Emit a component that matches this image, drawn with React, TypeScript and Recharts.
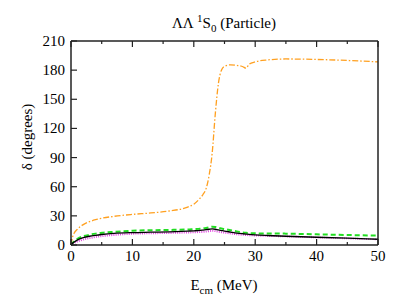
import React from "react";
import { LineChart, Line, XAxis, YAxis, Label } from "recharts";

const energies = [0, 0.25, 0.5, 1, 2, 3, 4, 5, 7, 10, 13, 16, 19, 20, 21, 21.5, 22, 22.5, 23, 23.5, 24, 24.5, 25, 26, 27, 28, 28.5, 29, 30, 32, 35, 40, 45, 50];
const orangeSeries = [0, 8, 12, 16, 21, 24, 26, 27.5, 29.5, 31.5, 33, 35, 39, 42, 48, 52, 58, 72, 95, 135, 166, 180, 184, 185.5, 185, 183.5, 182, 186, 188.5, 190.5, 191.5, 191, 190, 188.5];
const greenSeries = [0, 2.2, 3.5, 6, 9, 10.5, 11.7, 12.5, 13.5, 14.7, 15.2, 15.5, 16, 16.4, 16.8, 17.1, 17.5, 18.1, 18.8, 18.5, 17.5, 17, 16.5, 15.2, 14, 12.9, 12.5, 12.2, 12, 11.9, 11.7, 11, 10.3, 9.6];
const blackSeries = [0, 1.8, 3, 5, 7.5, 9, 10, 10.8, 12, 12.8, 13.2, 13.6, 14.3, 14.6, 15, 15.4, 15.8, 16.2, 16.5, 16.2, 15.5, 14.9, 14.3, 13.3, 12.3, 11.6, 11.3, 11, 10.5, 9.8, 9, 8, 7, 5.9];
const magentaSeries = [0, 1.2, 2, 3.5, 5.5, 7, 8.2, 9, 10.3, 11.5, 12, 12.3, 12.8, 13, 13.3, 13.5, 13.8, 14.2, 14.5, 14.2, 13.6, 13.1, 12.7, 11.8, 11, 10.4, 10.2, 10, 9.7, 9.3, 8.8, 7.8, 6.8, 5.8];
const xTicks = [0, 5, 10, 15, 20, 25, 30, 35, 40, 45, 50];
const yTicks = [0, 30, 60, 90, 120, 150, 180, 210];

const data = energies.map((e, i) => ({
  e,
  orange: orangeSeries[i],
  green: greenSeries[i],
  black: blackSeries[i],
  magenta: magentaSeries[i],
}));

const W = 400;
const H = 291;
const PL = 63;
const PT = 33;
const PR = 370;
const PB = 237;
const FONT = "'Liberation Serif', 'DejaVu Serif'";
const TXT: React.CSSProperties = { fontFamily: FONT, fontSize: 15, fill: "#000" };
const AX = "#222";

const BottomTick = (props: any) => {
  const { x, payload } = props;
  const v = payload.value;
  const major = v % 10 === 0;
  return (
    <g>
      <line x1={x} x2={x} y1={PB} y2={PB - (major ? 6 : 3)} stroke={AX} strokeWidth={1.2} />
      {major && (
        <text x={x} y={PB + 16} textAnchor="middle" style={TXT}>
          {v}
        </text>
      )}
    </g>
  );
};

const TopTick = (props: any) => {
  const { x, payload } = props;
  const v = payload.value;
  const major = v % 10 === 0;
  return <line x1={x} x2={x} y1={PT} y2={PT + (major ? 6 : 3)} stroke={AX} strokeWidth={1.2} />;
};

const LeftTick = (props: any) => {
  const { y, payload } = props;
  return (
    <g>
      <line x1={PL} x2={PL + 6} y1={y} y2={y} stroke={AX} strokeWidth={1.2} />
      <text x={PL - 6} y={y} dy={5} textAnchor="end" style={TXT}>
        {payload.value}
      </text>
    </g>
  );
};

const RightTick = (props: any) => {
  const { y } = props;
  return <line x1={PR} x2={PR - 6} y1={y} y2={y} stroke={AX} strokeWidth={1.2} />;
};

const TitleText = () => (
  <text x={216} y={19.5} textAnchor="middle" style={TXT}>
    <tspan>ΛΛ </tspan>
    <tspan dy={-6} style={{ fontSize: 11 }}>1</tspan>
    <tspan dy={6}>S</tspan>
    <tspan dy={4} style={{ fontSize: 11 }}>0</tspan>
    <tspan dy={-4}> (Particle)</tspan>
  </text>
);

const XLabelText = () => (
  <text x={216} y={282} textAnchor="middle" style={TXT}>
    <tspan>E</tspan>
    <tspan dy={4} style={{ fontSize: 11 }}>cm</tspan>
    <tspan dy={-4}> (MeV)</tspan>
  </text>
);

const YLabelText = () => (
  <text x={24} y={129} transform="rotate(-90 24 129)" textAnchor="middle" style={TXT}>
    δ (degrees)
  </text>
);

export default function App() {
  return (
    <div style={{ width: W, height: H }}>
      <LineChart width={W} height={H} data={data} margin={{ top: PT - 1, right: W - PR - 1, left: 0, bottom: 0 }}>
        <XAxis
          xAxisId="bottom"
          dataKey="e"
          type="number"
          domain={[0, 50]}
          ticks={xTicks}
          interval={0}
          height={H - PB}
          tickLine={false}
          tick={<BottomTick />}
          axisLine={{ stroke: AX, strokeWidth: 1.5 }}
        >
          <Label content={<XLabelText />} />
        </XAxis>
        <XAxis
          xAxisId="top"
          dataKey="e"
          type="number"
          orientation="top"
          domain={[0, 50]}
          ticks={xTicks}
          interval={0}
          height={1}
          tickLine={false}
          tick={<TopTick />}
          axisLine={{ stroke: AX, strokeWidth: 1.5 }}
        >
          <Label content={<TitleText />} />
        </XAxis>
        <YAxis
          yAxisId="left"
          type="number"
          domain={[0, 210]}
          ticks={yTicks}
          interval={0}
          width={PL}
          tickLine={false}
          tick={<LeftTick />}
          axisLine={{ stroke: AX, strokeWidth: 1.5 }}
        >
          <Label content={<YLabelText />} />
        </YAxis>
        <YAxis
          yAxisId="right"
          orientation="right"
          type="number"
          domain={[0, 210]}
          ticks={yTicks}
          interval={0}
          width={1}
          tickLine={false}
          tick={<RightTick />}
          axisLine={{ stroke: AX, strokeWidth: 1.5 }}
        />
        <Line xAxisId="bottom" yAxisId="left" type="monotone" dataKey="orange" stroke="#ffa020" strokeWidth={1.3} strokeDasharray="6 2 1.5 2" dot={false} isAnimationActive={false} />
        <Line xAxisId="bottom" yAxisId="left" type="monotone" dataKey="magenta" stroke="#e040e0" strokeWidth={1.8} strokeDasharray="1 1.2" dot={false} isAnimationActive={false} />
        <Line xAxisId="bottom" yAxisId="left" type="monotone" dataKey="green" stroke="#22dd22" strokeWidth={2} strokeDasharray="5 3" dot={false} isAnimationActive={false} />
        <Line xAxisId="bottom" yAxisId="left" type="monotone" dataKey="black" stroke="#000" strokeWidth={1.3} dot={false} isAnimationActive={false} />
      </LineChart>
    </div>
  );
}
